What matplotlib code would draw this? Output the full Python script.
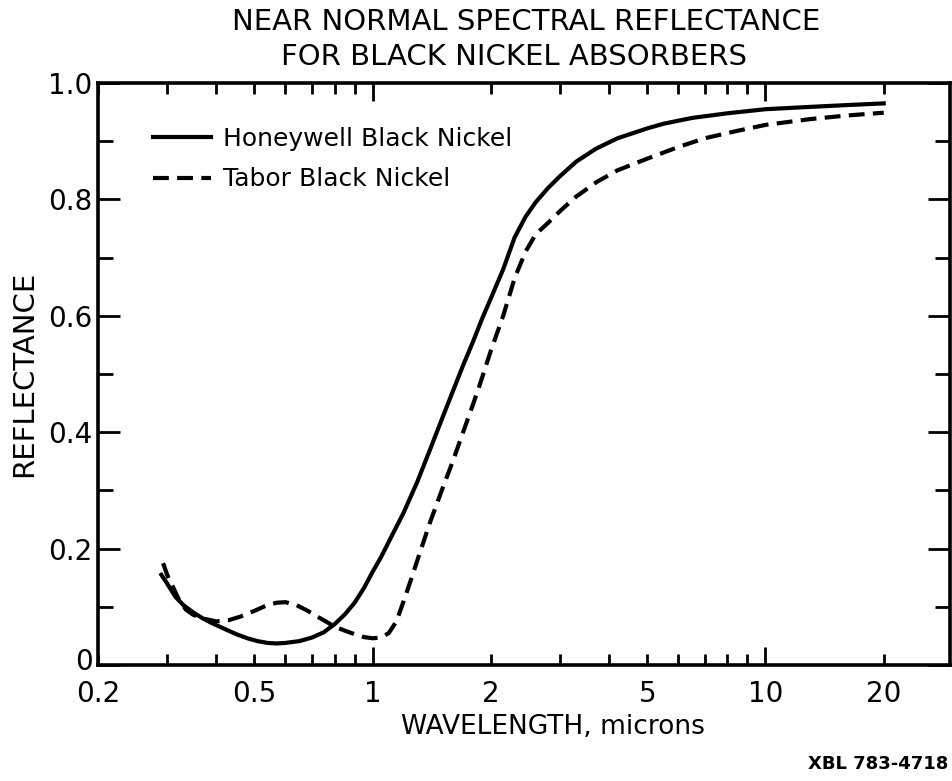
import matplotlib.pyplot as plt
from matplotlib.ticker import NullFormatter
from matplotlib.transforms import ScaledTranslation

# wavelength (microns) and reflectance
honeywell_x = [0.29, 0.30, 0.315, 0.33, 0.35, 0.37, 0.39, 0.42, 0.45, 0.48, 0.51,
               0.54, 0.57, 0.60, 0.65, 0.70, 0.75, 0.80, 0.85, 0.90, 0.95, 1.0,
               1.05, 1.1, 1.2, 1.3, 1.4, 1.5, 1.6, 1.7, 1.8, 1.9, 2.0, 2.15, 2.3,
               2.45, 2.6, 2.8, 3.0, 3.3, 3.7, 4.2, 5.0, 5.5, 6.5, 8.0, 10, 13, 16, 20]
honeywell_y = [0.155, 0.14, 0.117, 0.103, 0.09, 0.08, 0.072, 0.062, 0.053, 0.046, 0.041,
               0.038, 0.037, 0.038, 0.041, 0.047, 0.056, 0.07, 0.087, 0.107, 0.132, 0.16,
               0.185, 0.212, 0.262, 0.315, 0.37, 0.422, 0.47, 0.515, 0.555, 0.595, 0.63, 0.68, 0.735,
               0.77, 0.795, 0.82, 0.84, 0.865, 0.887, 0.905, 0.922, 0.93, 0.94, 0.948, 0.955, 0.959, 0.962, 0.965]

tabor_x = [0.293, 0.30, 0.31, 0.32, 0.335, 0.35, 0.37, 0.40, 0.43, 0.46, 0.50, 0.54,
           0.57, 0.60, 0.64, 0.68, 0.72, 0.76, 0.80, 0.85, 0.90, 0.95, 1.0, 1.05,
           1.1, 1.15, 1.2, 1.25, 1.3, 1.4, 1.5, 1.6, 1.7, 1.85, 2.0, 2.15, 2.3, 2.45,
           2.6, 2.8, 3.0, 3.3, 3.72, 4.2, 5.0, 6.0, 7.0, 8.5, 10, 13, 16, 20]
tabor_y = [0.175, 0.155, 0.135, 0.115, 0.095, 0.086, 0.08, 0.075, 0.077, 0.083, 0.093, 0.103,
           0.107, 0.108, 0.103, 0.094, 0.084, 0.075, 0.066, 0.059, 0.053, 0.048, 0.046, 0.047,
           0.055, 0.075, 0.11, 0.145, 0.18, 0.245, 0.3, 0.35, 0.40, 0.47, 0.54, 0.60, 0.665, 0.71,
           0.74, 0.76, 0.78, 0.805, 0.83, 0.85, 0.87, 0.89, 0.905, 0.918, 0.928, 0.938, 0.944, 0.949]

major_x = [1, 10]
minor_x = [0.2, 0.3, 0.4, 0.5, 0.6, 0.7, 0.8, 0.9, 2, 3, 4, 5, 6, 7, 8, 9, 20]
minor_x_labels = ["0.2", "", "", "0.5", "", "", "", "", "2", "", "", "5", "", "", "", "", "20"]
y_major = [0, 0.2, 0.4, 0.6, 0.8, 1.0]
y_major_labels = ["0", "0.2", "0.4", "0.6", "0.8", "1.0"]
y_minor = [0.1, 0.3, 0.5, 0.7, 0.9]

plt.rcParams['font.family'] = 'DejaVu Sans'

fig = plt.figure(figsize=(9.53, 7.81), dpi=100)
ax = fig.add_axes([0.1028, 0.1485, 0.8941, 0.7452])

ax.plot(honeywell_x, honeywell_y, color='black', lw=3, label='Honeywell Black Nickel')
ax.plot(tabor_x, tabor_y, color='black', lw=3, linestyle=(0, (3.8, 2.0)),
        label='Tabor Black Nickel')

ax.set_xscale('log')
ax.set_xlim(0.2, 29.5)
ax.set_ylim(0, 1.0)

ax.set_xticks(major_x, labels=["1", "10"])
ax.set_xticks(minor_x, labels=minor_x_labels, minor=True)
ax.set_yticks(y_major, labels=y_major_labels)
ax.set_yticks(y_minor, minor=True)
ax.yaxis.set_minor_formatter(NullFormatter())

ax.tick_params(axis='x', which='major', direction='in', length=13, width=2,
               top=True, labelsize=20, pad=11)
ax.tick_params(axis='x', which='minor', direction='in', length=8, width=2,
               top=True, labelsize=20, pad=11)
ax.tick_params(axis='y', which='major', direction='in', length=16, width=2,
               right=True, labelsize=20, pad=4)
ax.tick_params(axis='y', which='minor', direction='in', length=11, width=2,
               right=True)

# the "0" label sits a little above the corner, clear of "0.2"
zero_lbl = ax.yaxis.get_major_ticks()[0].label1
zero_lbl.set_transform(zero_lbl.get_transform() + ScaledTranslation(0, 4 / 72, fig.dpi_scale_trans))

for s in ax.spines.values():
    s.set_linewidth(2.6)

ax.set_ylabel("REFLECTANCE", fontsize=21)
ax.yaxis.set_label_coords(-0.070, 0.5)
ax.set_xlabel("WAVELENGTH, microns", fontsize=19)
ax.xaxis.set_label_coords(0.534, -0.084)

fig.text(0.552, 1 - 22 / 781, "NEAR NORMAL SPECTRAL REFLECTANCE", fontsize=21,
         ha='center', va='center')
fig.text(0.539, 1 - 57 / 781, "FOR BLACK NICKEL ABSORBERS", fontsize=21,
         ha='center', va='center')
fig.text(0.995, 1 - 764 / 781, "XBL 783-4718", fontsize=13, fontweight='bold',
         ha='right', va='center')

ax.legend(loc='upper left', bbox_to_anchor=(0.0646, 0.925), frameon=False,
          fontsize=18, handlelength=2.3, handletextpad=0.5, labelspacing=0.67,
          borderpad=0, borderaxespad=0)

fig.savefig("out.png", dpi=100)
